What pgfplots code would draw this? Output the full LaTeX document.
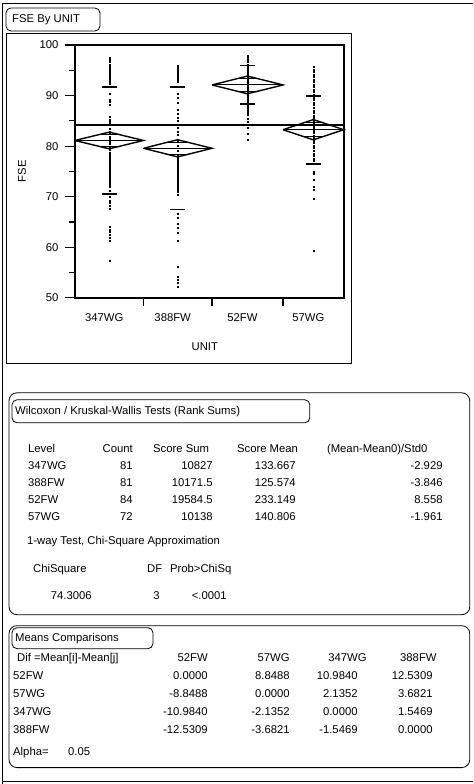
\documentclass[border=0pt]{standalone}
\usepackage{fontspec}
\setmainfont{Liberation Sans}
\usepackage{pgfplots}
\pgfplotsset{compat=1.18}
\begin{document}
\begin{tikzpicture}[font=\fontsize{11.3bp}{13bp}\selectfont,
  t/.style={inner sep=0pt, text height=8bp, text depth=2bp}]
\begin{scope}[x=1bp,y=-1bp]
\path (0,0) rectangle (473,784);
% outer frame
\draw[line width=0.8bp] (2.5,784) -- (2.5,3) -- (473,3);
\draw[line width=0.8bp] (2.5,782) -- (473,782);
% first outline
\draw[line width=0.8bp, rounded corners=5bp] (6,8) rectangle (100,31);
\node[t, anchor=west] at (12,20) {FSE By UNIT};
\draw[line width=0.8bp] (6.5,33) rectangle (352,364);
% Wilcoxon box
\draw[line width=0.8bp, rounded corners=8bp] (9,393) rectangle (470,615);
\draw[line width=0.8bp, rounded corners=5bp] (12,400) rectangle (310,423);
\node[t, anchor=west] at (15,412) {Wilcoxon / Kruskal-Wallis Tests (Rank Sums)};
\node[t, anchor=west] at (28,450) {Level};
\node[t, anchor=east] at (133,450) {Count};
\node[t, anchor=west] at (153,450) {Score Sum};
\node[t, anchor=west] at (237,450) {Score Mean};
\node[t, anchor=west] at (327,450) {(Mean-Mean0)/Std0};
\foreach \y/\a/\b/\c/\d/\e in {467/347WG/81/10827/133.667/-2.929,
  484/388FW/81/10171.5/125.574/-3.846, 501/52FW/84/19584.5/233.149/8.558,
  518/57WG/72/10138/140.806/-1.961}{
  \node[t, anchor=west] at (28,\y) {\a};
  \node[t, anchor=east] at (133,\y) {\b};
  \node[t, anchor=east] at (213,\y) {\c};
  \node[t, anchor=east] at (296,\y) {\d};
  \node[t, anchor=east] at (443,\y) {\e};
}
\node[t, anchor=west] at (27,542) {1-way Test, Chi-Square Approximation};
\node[t, anchor=west] at (33,570) {ChiSquare};
\node[t, anchor=west] at (147,570) {DF};
\node[t, anchor=west] at (170,570) {Prob>ChiSq};
\node[t, anchor=east] at (92,597) {74.3006};
\node[t, anchor=east] at (160,597) {3};
\node[t, anchor=east] at (227,597) {<.0001};
% Means comparisons box
\draw[line width=0.8bp, rounded corners=8bp] (9,626) rectangle (470,768);
\draw[line width=0.8bp, rounded corners=5bp] (12,628) rectangle (153,649);
\node[t, anchor=west] at (15,639) {Means Comparisons};
\node[t, anchor=west] at (17,659) {Dif =Mean[i]-Mean[j]};
\node[t, anchor=east] at (208,659) {52FW};
\node[t, anchor=east] at (290,659) {57WG};
\node[t, anchor=east] at (367,659) {347WG};
\node[t, anchor=east] at (437,659) {388FW};
\foreach \y/\a/\b/\c/\d/\e in {677/52FW/0.0000/8.8488/10.9840/12.5309,
  695/57WG/-8.8488/0.0000/2.1352/3.6821, 713/347WG/-10.9840/-2.1352/0.0000/1.5469,
  731/388FW/-12.5309/-3.6821/-1.5469/0.0000}{
  \node[t, anchor=west] at (13,\y) {\a};
  \node[t, anchor=east] at (208,\y) {\b};
  \node[t, anchor=east] at (290,\y) {\c};
  \node[t, anchor=east] at (358,\y) {\d};
  \node[t, anchor=east] at (433,\y) {\e};
}
\node[t, anchor=west] at (13,753) {Alpha=};
\node[t, anchor=west] at (68,753) {0.05};
\end{scope}

\begin{axis}[
  at={(75bp,-298bp)}, anchor=south west,
  scale only axis, width=269bp, height=253bp,
  xmin=0, xmax=318, ymin=50, ymax=100,
  axis line style={line width=1.6bp},
  tick align=outside,
  xtick pos=bottom, ytick pos=left,
  ytick={50,60,70,80,90,100},
  minor ytick={55,65,75,85,95},
  major tick length=10bp, minor tick length=6bp,
  tick style={line width=1.2bp, black},
  xtick={40.5,121.5,204,282},
  xticklabels={347WG,388FW,52FW,57WG},
  x tick style={draw=none},
  xticklabel style={xshift=-5bp, yshift=-2bp},
  yticklabel style={xshift=-3bp},
  /pgf/number format/assume math mode=true,
  ticklabel style={font=\fontsize{11.3bp}{13bp}\selectfont},
  label style={font=\fontsize{11.3bp}{13bp}\selectfont},
  ylabel={FSE},
  ylabel style={at={(axis description cs:-0.197,0.5)}, anchor=center, rotate=0},
  xlabel={UNIT},
  xlabel style={at={(axis description cs:0.483,-0.195)}, anchor=center},
  clip=false,
  unbounded coords=jump,
  every axis plot/.append style={mark options={draw=none, fill=black}},
]
% category boundary ticks
\addplot[line width=1.2bp, black] coordinates {(81,50) (81,48.4) (nan,nan) (162,50) (162,48.4) (nan,nan) (246,50) (246,48.4)};
% data points
\addplot[only marks, mark=square*, mark size=0.5bp, black] coordinates {
(40.5,97.4)(40.5,97.0)(40.5,96.6)(40.5,96.2)(40.5,95.8)(40.5,95.4)(40.5,95.0)(40.5,94.6)(40.5,94.2)(40.5,93.8)(40.5,93.4)(40.5,93.0)(40.5,92.6)(40.5,92.3)
(40.5,90.4)(40.5,89.1)(40.5,88.7)(40.5,88.2)(40.5,85.8)(40.5,85.3)(40.5,84.8)(40.5,84.5)
(40.5,83.4)(40.5,82.9)(40.5,82.4)(40.5,81.9)(40.5,81.4)(40.5,80.9)(40.5,80.4)(40.5,79.9)
(40.5,79.2)(40.5,78.8)(40.5,78.4)(40.5,78.0)(40.5,77.6)(40.5,77.2)(40.5,76.8)(40.5,76.4)(40.5,76.0)(40.5,75.6)(40.5,75.2)(40.5,74.8)(40.5,74.4)(40.5,74.0)(40.5,73.6)(40.5,73.2)(40.5,72.8)(40.5,72.4)(40.5,72.0)
(40.5,71.2)(40.5,70.0)(40.5,69.3)(40.5,68.8)(40.5,68.2)(40.5,67.7)
(40.5,64.0)(40.5,63.5)(40.5,63.0)(40.5,62.5)(40.5,61.9)(40.5,61.4)(40.5,57.3)
};
\addplot[only marks, mark=square*, mark size=0.5bp, black] coordinates {
(121.5,96.0)(121.5,95.6)(121.5,95.2)(121.5,94.8)(121.5,94.4)(121.5,94.0)(121.5,93.6)(121.5,93.2)(121.5,92.8)
(121.5,90.4)(121.5,89.5)(121.5,88.5)(121.5,87.3)(121.5,86.5)(121.5,85.7)(121.5,85.1)
(121.5,83.6)(121.5,82.9)(121.5,82.2)(121.5,81.0)(121.5,80.0)(121.5,79.0)(121.5,78.4)
(121.5,77.8)(121.5,77.4)(121.5,77.0)(121.5,76.6)(121.5,76.2)(121.5,75.8)(121.5,75.4)(121.5,75.0)(121.5,74.6)(121.5,74.2)(121.5,73.8)(121.5,73.4)(121.5,73.0)(121.5,72.6)(121.5,72.2)(121.5,71.8)(121.5,71.4)(121.5,71.0)(121.5,70.4)
(121.5,66.7)(121.5,65.8)(121.5,64.6)(121.5,63.8)(121.5,62.9)(121.5,61.4)
(121.5,56.1)(121.5,54.1)(121.5,53.5)(121.5,52.9)(121.5,52.3)
};
\addplot[only marks, mark=square*, mark size=0.5bp, black] coordinates {
(204,97.8)(204,97.4)(204,97.0)(204,96.6)(204,96.2)(204,95.8)(204,95.4)(204,95.0)(204,94.6)(204,94.2)(204,93.8)(204,93.4)(204,93.0)(204,92.6)(204,92.2)(204,91.8)(204,91.4)(204,91.0)(204,90.6)(204,90.2)(204,89.8)(204,89.4)(204,89.0)(204,88.6)(204,88.2)(204,87.8)(204,87.4)(204,87.0)(204,86.6)(204,86.2)(204,85.4)(204,84.8)(204,83.6)(204,82.4)(204,81.2)
};
\addplot[only marks, mark=square*, mark size=0.5bp, black] coordinates {
(282,95.7)(282,95.2)(282,94.7)(282,94.2)(282,93.7)(282,93.2)(282,92.7)(282,92.2)(282,91.7)(282,91.2)(282,90.7)(282,90.2)(282,89.6)(282,89.1)(282,88.6)(282,88.1)(282,87.6)(282,87.1)(282,86.6)(282,86.1)(282,85.6)(282,85.1)(282,84.6)(282,84.1)(282,83.6)(282,83.1)(282,82.6)(282,82.1)(282,81.6)(282,81.1)(282,80.6)(282,80.1)(282,79.6)(282,79.1)(282,78.6)(282,78.1)(282,77.6)(282,77.1)
(282,75.0)(282,74.6)(282,73.3)(282,71.9)(282,71.3)(282,69.7)(282,59.3)
};
% grand mean
\addplot[line width=1.8bp, black] coordinates {(0,84.11) (318,84.11)};
% means diamonds
\addplot[line width=1.4bp, black] coordinates {(0,81.12) (40.5,82.77) (81,81.12) (40.5,79.47) (0,81.12)};
\addplot[line width=1.4bp, black] coordinates {(81,79.57) (121.5,81.27) (162,79.57) (121.5,77.87) (81,79.57)};
\addplot[line width=1.4bp, black] coordinates {(162,92.10) (204,93.85) (246,92.10) (204,90.35) (162,92.10)};
\addplot[line width=1.4bp, black] coordinates {(246,83.25) (282,85.25) (318,83.25) (282,81.25) (246,83.25)};
% mean lines and overlap marks
\addplot[line width=1bp, black] coordinates {
(0,81.12)(81,81.12)(nan,nan)(28.64,82.29)(52.36,82.29)(nan,nan)(28.64,79.95)(52.36,79.95)(nan,nan)
(81,79.57)(162,79.57)(nan,nan)(109.64,80.77)(133.36,80.77)(nan,nan)(109.64,78.37)(133.36,78.37)(nan,nan)
(162,92.10)(246,92.10)(nan,nan)(191.7,93.34)(216.3,93.34)(nan,nan)(191.7,90.86)(216.3,90.86)(nan,nan)
(246,83.25)(318,83.25)(nan,nan)(271.45,84.66)(292.55,84.66)(nan,nan)(271.45,81.84)(292.55,81.84)};
% std dev lines
\addplot[line width=1.6bp, black] coordinates {
(31.5,91.7)(49.5,91.7)(nan,nan)(31.5,70.55)(49.5,70.55)(nan,nan)
(112.5,91.67)(130.5,91.67)(nan,nan)(112.5,67.47)(130.5,67.47)(nan,nan)
(195,95.95)(213,95.95)(nan,nan)(195,88.3)(213,88.3)(nan,nan)
(273,89.95)(291,89.95)(nan,nan)(273,76.5)(291,76.5)};
\end{axis}
\end{tikzpicture}
\end{document}
